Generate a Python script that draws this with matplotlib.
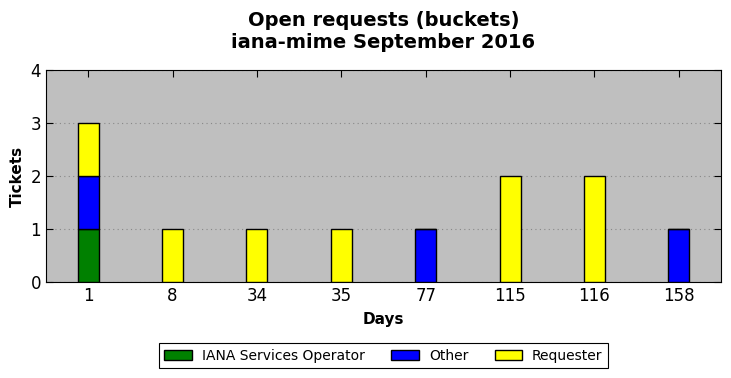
import matplotlib
matplotlib.use("Agg")
import matplotlib.pyplot as plt
import numpy as np

days = ["1", "8", "34", "35", "77", "115", "116", "158"]
iana = [1, 0, 0, 0, 0, 0, 0, 0]
other = [1, 0, 0, 0, 1, 0, 0, 1]
requester = [1, 1, 1, 1, 0, 2, 2, 0]

fig = plt.figure(figsize=(7.31, 3.78), dpi=100)
ax = fig.add_axes([46/731, 1-282/378, 675/731, 212/378])
ax.set_facecolor("#bfbfbf")
x = np.arange(len(days))
w = 0.25
iana_a = np.array(iana); other_a = np.array(other); req_a = np.array(requester)
ax.bar(x, iana_a, w, color="green", edgecolor="black", label="IANA Services Operator", zorder=3)
ax.bar(x, other_a, w, bottom=iana_a, color="blue", edgecolor="black", label="Other", zorder=3)
ax.bar(x, req_a, w, bottom=iana_a+other_a, color="yellow", edgecolor="black", label="Requester", zorder=3)
ax.set_xlim(-0.5, len(days)-0.5)
ax.set_ylim(0, 4)
ax.set_xticks(x)
ax.set_xticklabels(days, fontsize=12)
ax.set_yticks([0, 1, 2, 3, 4])
ax.tick_params(axis="y", labelsize=12)
ax.tick_params(direction="in", top=True, right=True, length=5)
ax.yaxis.grid(True, linestyle=(0, (1, 3)), color="#888888", linewidth=0.8, zorder=0)
ax.set_axisbelow(True)
ax.set_xlabel("Days", fontsize=11, fontweight="bold", labelpad=5)
ax.set_ylabel("Tickets", fontsize=11, fontweight="bold")
ax.set_title("Open requests (buckets)\niana-mime September 2016", fontsize=14, fontweight="bold", pad=16)
leg = ax.legend(loc="upper center", bbox_to_anchor=(0.5, -0.255), ncol=3, fontsize=10,
                fancybox=False, framealpha=1, edgecolor="black", handlelength=2.0,
                columnspacing=1.9, borderpad=0.4, handletextpad=0.7)
leg.get_frame().set_linewidth(0.8)
fig.savefig("out.png", dpi=100)
